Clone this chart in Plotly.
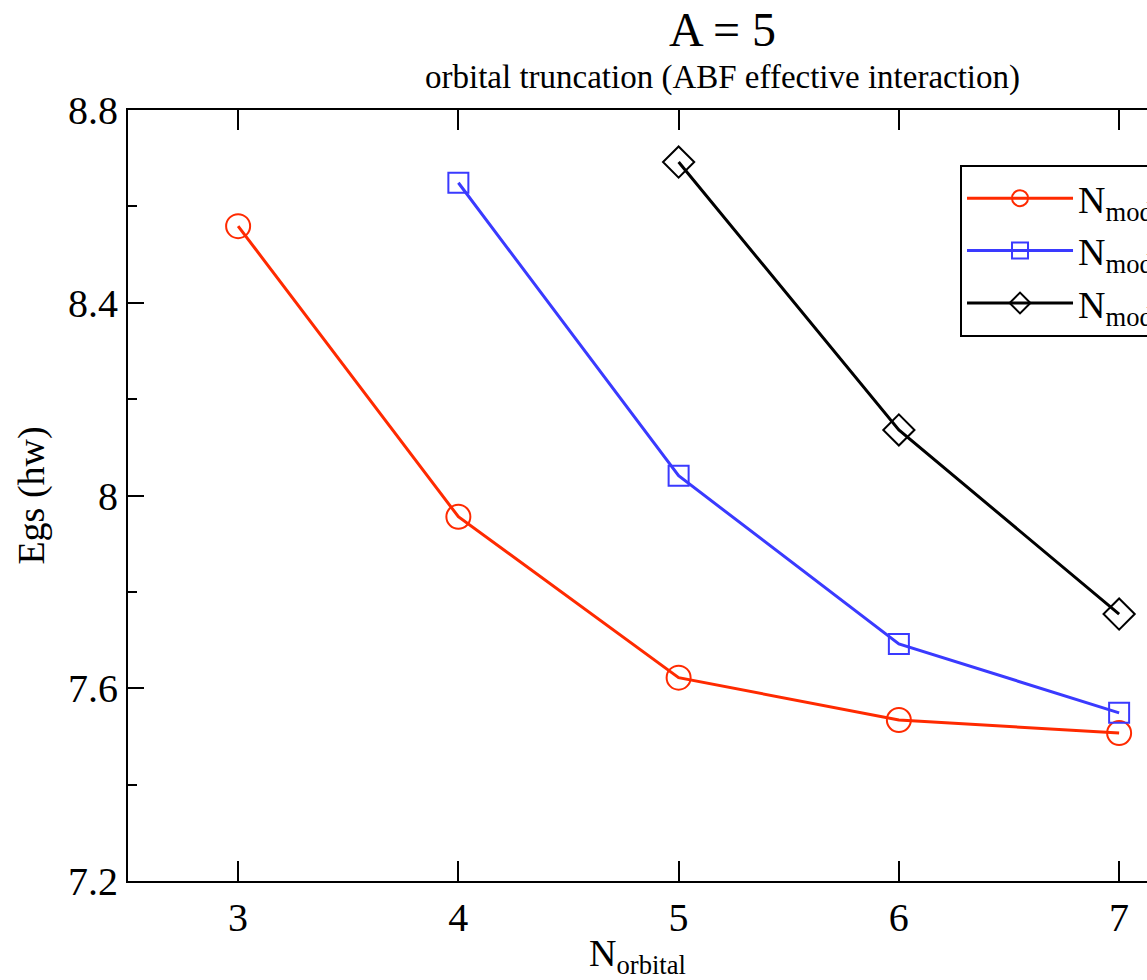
import plotly.graph_objects as go

n_orbital_red = [3, 4, 5, 6, 7]
egs_red = [8.559, 7.956, 7.622, 7.534, 7.507]
n_orbital_blue = [4, 5, 6, 7]
egs_blue = [8.649, 8.041, 7.692, 7.549]
n_orbital_black = [5, 6, 7]
egs_black = [8.692, 8.136, 7.754]

labels = ["N<sub>model</sub> = 2", "N<sub>model</sub> = 4", "N<sub>model</sub> = 6"]
x_ticks = [3, 4, 5, 6, 7]
y_ticks = [7.2, 7.6, 8.0, 8.4, 8.8]
y_tick_text = ["7.2", "7.6", "8", "8.4", "8.8"]

SERIF = "Liberation Serif, Times New Roman, serif"

fig = go.Figure()
fig.add_trace(go.Scatter(
    x=n_orbital_red, y=egs_red, mode="lines+markers", name=labels[0],
    line=dict(color="#ff2a00", width=3),
    marker=dict(symbol="circle-open", size=24, color="#ff2a00", line=dict(width=2)),
))
fig.add_trace(go.Scatter(
    x=n_orbital_blue, y=egs_blue, mode="lines+markers", name=labels[1],
    line=dict(color="#3a3aff", width=3),
    marker=dict(symbol="square-open", size=20, color="#3a3aff", line=dict(width=2)),
))
fig.add_trace(go.Scatter(
    x=n_orbital_black, y=egs_black, mode="lines+markers", name=labels[2],
    line=dict(color="#000000", width=3),
    marker=dict(symbol="diamond-open", size=24, color="#000000", line=dict(width=2)),
))

fig.update_layout(
    width=1147, height=980,
    margin=dict(l=128, r=0, t=110, b=99, autoexpand=False),
    paper_bgcolor="white", plot_bgcolor="white",
    font=dict(family=SERIF, color="black"),
    showlegend=True,
    legend=dict(
        x=0.8165, y=0.9287, xanchor="left", yanchor="top",
        bgcolor="white", bordercolor="black", borderwidth=2,
        font=dict(family=SERIF, size=38, color="black"),
        itemwidth=106, tracegroupgap=0,
    ),
    xaxis=dict(
        range=[2.5, 7.1266], tickvals=x_ticks, ticks="inside", ticklen=20,
        tickwidth=1.5, tickcolor="black", showline=True, linecolor="black",
        linewidth=2, mirror="ticks", showgrid=False, zeroline=False,
        tickfont=dict(family=SERIF, size=40),
        ticklabelstandoff=0,
        title=dict(text="N<sub>orbital</sub>", font=dict(family=SERIF, size=38), standoff=0),
    ),
    yaxis=dict(
        range=[7.2, 8.8], tickvals=y_ticks, ticktext=y_tick_text, ticks="inside",
        ticklen=16, tickwidth=1.5, tickcolor="black", showline=True,
        linecolor="black", linewidth=2, mirror=False, showgrid=False,
        zeroline=False, tickfont=dict(family=SERIF, size=40),
        ticklabelstandoff=0,
        minor=dict(tickvals=[7.4, 7.8, 8.2, 8.6], ticks="inside", ticklen=9,
                   tickwidth=1.5, tickcolor="black", showgrid=False),
        title=dict(text="Egs (hw)", font=dict(family=SERIF, size=38), standoff=12),
    ),
    annotations=[
        dict(text="A = 5", xref="paper", yref="paper", x=0.583, y=1.1038,
             xanchor="center", yanchor="middle", showarrow=False,
             font=dict(family=SERIF, size=48)),
        dict(text="orbital truncation (ABF effective interaction)", xref="paper",
             yref="paper", x=0.583, y=1.0428, xanchor="center",
             yanchor="middle", showarrow=False, font=dict(family=SERIF, size=33)),
    ],
)

fig.write_html("out.html")
